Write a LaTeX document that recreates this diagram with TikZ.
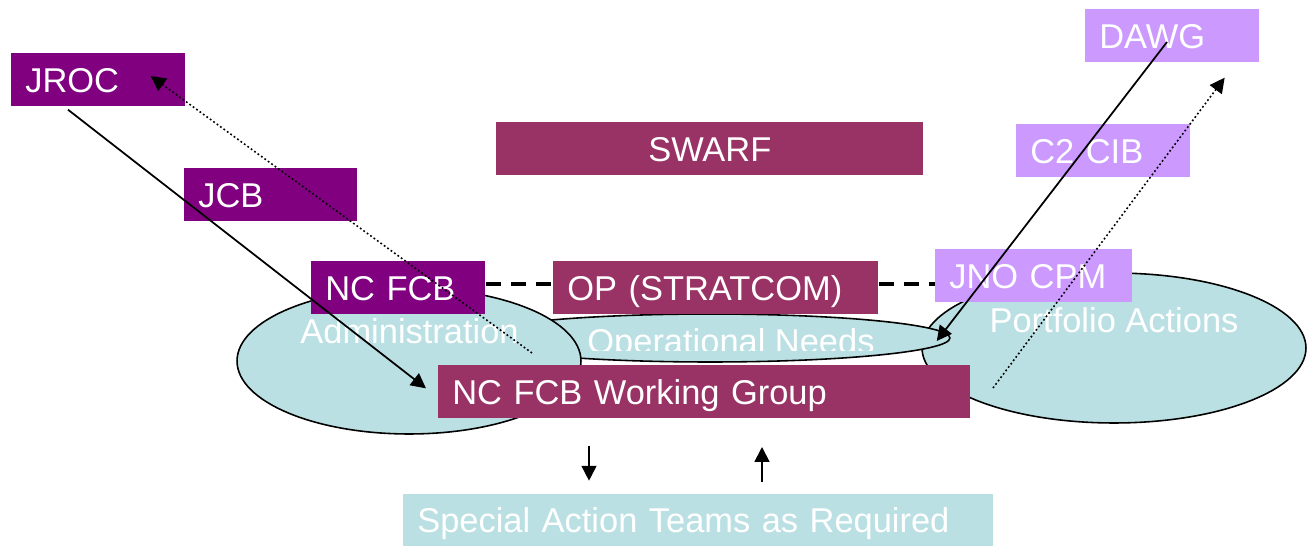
\documentclass[tikz,border=0pt]{standalone}
\usepackage{fontspec}
\setmainfont{Liberation Sans}
\usetikzlibrary{arrows.meta,calc,shapes.geometric}
\definecolor{plum}{HTML}{800080}
\definecolor{wine}{HTML}{993366}
\definecolor{lilac}{HTML}{CC99FF}
\definecolor{aqua}{HTML}{BBE0E3}
\newcommand\lblfont{\fontsize{19.6pt}{23pt}\selectfont}

\begin{document}
\begin{tikzpicture}[x=0.02cm, y=-0.02cm,
  tag/.style={anchor=north west, inner xsep=0.28cm, inner ysep=0pt,
    minimum height=1.06cm, text height=14pt, text depth=0pt,
    font=\lblfont, text=white, align=left},
  area/.style={ellipse, draw=black, line width=0.9pt, fill=aqua, inner sep=0pt},
  areatext/.style={font=\lblfont, text=white, inner sep=0pt,
    text height=14pt, text depth=0pt},
  flow/.style={line width=1pt, -{Triangle[length=8.5pt,width=8.5pt]}},
  back/.style={line width=0.9pt, dash pattern=on 1pt off 1.4pt,
    -{Triangle[length=8.5pt,width=8.5pt]}},
  peer/.style={line width=2.3pt, dash pattern=on 8.5pt off 5.7pt},
]
\useasboundingbox (0,0) rectangle (1308,546);

% working areas
\node[area, minimum width=7.68cm, minimum height=3cm] (port) at (1114,348) {};
\node[area, minimum width=9.6cm, minimum height=0.96cm] (ops) at (710,338) {};
\node[area, minimum width=6.88cm, minimum height=2.92cm] (adm) at (409,361) {};

\node[areatext] (admtext) at (409.5,331) {Administration};
\node[areatext] (porttext) at (1114,320) {Portfolio Actions};
\begin{scope}
  \clip (560,320) rectangle (900,351);
  \node[areatext] (opstext) at (731,341.5) {Operational Needs};
\end{scope}

% boards
\node[tag, fill=plum, text width=2.92cm] (jroc) at (11,53) {JROC};
\node[tag, fill=plum, text width=2.9cm] (jcb) at (184,168) {JCB};
\node[tag, fill=wine, text width=7.98cm, align=center] (swarf) at (496,122) {SWARF};
\node[tag, fill=lilac, text width=2.92cm] (dawg) at (1085,9) {DAWG};
\node[tag, fill=lilac, text width=2.92cm] (c2cib) at (1016,124) {C2 CIB};
\node[tag, fill=plum, text width=2.92cm] (ncfcb) at (311,261) {NC FCB};
\node[tag, fill=wine, text width=5.94cm] (op) at (553,261) {OP (STRATCOM)};
\node[tag, fill=lilac, text width=3.38cm] (jno) at (935,249) {JNO CPM};
\node[tag, fill=wine, text width=10.08cm] (wg) at (438,365) {NC FCB Working Group};
\node[tag, fill=aqua, text width=11.24cm, minimum height=1.04cm] (sat) at (403,494)
  {Special Action Teams as Required};

% peer links
\path (ncfcb.east) ++(0,-3.5) coordinate (d0);
\draw[peer] (d0) -- (d0 -| op.west);
\draw[peer] (d0 -| op.east) -- (d0 -| jno.west);

% tasking and feedback
\coordinate (a1) at ($(jroc.south west)+(57,3)$);
\coordinate (a2) at ($(wg.west)+(-12,-3.5)$);
\draw[flow] (a1) -- (a2);

\coordinate (b1) at ($(wg.north west)+(94,-12)$);
\coordinate (b2) at ($(jroc.north east)+(-35,23)$);
\draw[back] (b1) -- (b2);

\coordinate (c1) at ($(dawg.north west)+(82,33)$);
\coordinate (c2) at ($(ops.east)+(-14,3)$);
\draw[flow] (c1) -- (c2);

\coordinate (e1) at ($(port.center)+(-121,40)$);
\coordinate (e2) at ($(dawg.south east)+(-35,15)$);
\draw[back] (e1) -- (e2);

\coordinate (f1) at ($(wg.south west)+(151,27)$);
\coordinate (f2) at ($(wg.south west)+(151,62)$);
\draw[flow] (f1) -- (f2);

\coordinate (g1) at ($(sat.north west)+(359,-12)$);
\coordinate (g2) at ($(sat.north west)+(359,-47)$);
\draw[flow] (g1) -- (g2);
\end{tikzpicture}
\end{document}
